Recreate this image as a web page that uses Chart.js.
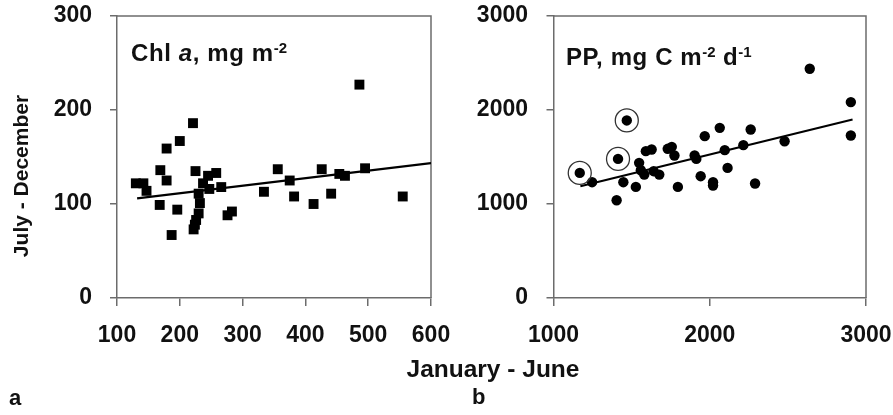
<!DOCTYPE html>
<html>
<head>
<meta charset="utf-8">
<script src="https://cdn.jsdelivr.net/npm/chart.js@4"></script>
<style>
  body { margin: 0; background: #fff; width: 893px; height: 415px; overflow: hidden; position: relative;
         font-family: "Liberation Sans", Arial, sans-serif; font-weight: bold; color: #111; }
  canvas { position: absolute; top: 0; }
  #chlCanvas { left: 0; }
  #ppCanvas { left: 450px; }
  .lbl { position: absolute; white-space: nowrap; font-size: 22px; line-height: 22px; }
  .panel { font-size: 24px; line-height: 24px; letter-spacing: 0.6px; }
  .sup { font-size: 15px; position: relative; top: -8px; letter-spacing: 0; }
  #ytitle { left: 21px; top: 176px; transform: translate(-50%, -50%) rotate(-90deg); font-size: 21px; }
</style>
</head>
<body>
<canvas id="chlCanvas" width="450" height="360"></canvas>
<canvas id="ppCanvas" width="443" height="360"></canvas>

<div class="lbl panel" style="left:131px; top:41px;">Chl <i>a</i>, mg m<span class="sup">-2</span></div>
<div class="lbl panel" style="left:566px; top:45px;">PP, mg C m<span class="sup">-2</span> d<span class="sup">-1</span></div>
<div class="lbl" id="ytitle">July - December</div>
<div class="lbl" style="left:493px; top:357px; transform: translateX(-50%); font-size:24.5px; line-height:24.5px;">January - June</div>
<div class="lbl" style="left:9px; top:387px;">a</div>
<div class="lbl" style="left:472px; top:386px;">b</div>

<script>
// panel a: Chl a, mg m-2 (January-June vs July-December)
const chlJanJun = [130, 142, 147, 169, 179, 168, 196, 179, 200, 221, 187, 225, 222, 224, 226, 230, 232,
                   230, 237, 245, 258, 247, 266, 276, 283, 334, 356, 375, 382, 413, 426, 441, 454, 463, 486, 495, 555];
const chlJulDec = [122, 122, 114, 136, 125, 99, 94, 159, 167, 186, 67, 135, 73, 78, 83, 90, 101,
                   111, 122, 130, 133, 116, 118, 88, 92, 113, 137, 125, 108, 100, 137, 111, 132, 130, 227, 138, 108];
const chlFitX = [132, 600];
const chlFitY = [106, 143.5];
const chlXTicks = [100, 200, 300, 400, 500, 600];
const chlYTicks = [0, 100, 200, 300];

// panel b: PP, mg C m-2 d-1
const ppJanJun = [1168, 1247, 1413, 1469, 1404, 1447, 1527, 1548, 1559, 1581, 1591, 1628, 1641, 1677, 1731, 1757, 1774,
                  1796, 1903, 1914, 1942, 1968, 2021, 2021, 2064, 2096, 2114, 2215, 2262, 2290, 2479, 2640, 2903, 2903];
const ppJulDec = [1331, 1232, 1480, 1889, 1040, 1232, 1182, 1438, 1359, 1313, 1562, 1580, 1349, 1313, 1587, 1608, 1516,
                  1182, 1516, 1480, 1296, 1722, 1232, 1196, 1810, 1573, 1384, 1626, 1793, 1218, 1668, 2439, 2084, 1729];
const ppCircledJanJun = [1168, 1413, 1469];
const ppCircledJulDec = [1331, 1480, 1889];
const ppFitX = [1172, 2914];
const ppFitY = [1189, 1899];
const ppXTicks = [1000, 2000, 3000];
const ppYTicks = [0, 1000, 2000, 3000];

const toPoints = (xs, ys) => xs.map((x, i) => ({ x: x, y: ys[i] }));

Chart.defaults.font.family = '"Liberation Sans", Arial, sans-serif';
Chart.defaults.color = '#111';

const frameColor = '#6c6c6c';
const tickFont = { size: 23, weight: 'bold' };

// draws the top and right edges of the plot box
const framePlugin = {
    id: 'frame',
    beforeDatasetsDraw(chart) {
        const a = chart.chartArea;
        const ctx = chart.ctx;
        ctx.save();
        ctx.strokeStyle = frameColor;
        ctx.lineWidth = 1.5;
        ctx.beginPath();
        ctx.moveTo(a.left, a.top);
        ctx.lineTo(a.right, a.top);
        ctx.lineTo(a.right, a.bottom);
        ctx.stroke();
        ctx.restore();
    }
};

function axisOptions(ticks, yWidth, labelPad) {
    const [xt, yt] = ticks;
    return {
        x: {
            type: 'linear',
            min: xt[0], max: xt[xt.length - 1],
            afterBuildTicks: s => { s.ticks = xt.map(v => ({ value: v })); },
            afterFit: s => { s.height = 62; s.paddingLeft = 0; s.paddingRight = 0; },
            grid: { drawOnChartArea: false, drawTicks: true, tickLength: 8, color: frameColor, lineWidth: 1.5 },
            border: { color: frameColor, width: 1.5 },
            ticks: { font: tickFont, padding: 16, maxRotation: 0, callback: v => String(v) }
        },
        y: {
            type: 'linear',
            min: yt[0], max: yt[yt.length - 1],
            afterBuildTicks: s => { s.ticks = yt.map(v => ({ value: v })); },
            afterFit: s => { s.width = yWidth; s.paddingTop = 0; s.paddingBottom = 0; },
            grid: { drawOnChartArea: false, drawTicks: true, tickLength: 7, color: frameColor, lineWidth: 1.5 },
            border: { color: frameColor, width: 1.5 },
            ticks: { font: tickFont, padding: labelPad, callback: v => String(v) }
        }
    };
}

const baseOptions = {
    responsive: false,
    animation: false,
    events: [],
    plugins: { legend: { display: false }, tooltip: { enabled: false } }
};

new Chart(document.getElementById('chlCanvas').getContext('2d'), {
    type: 'scatter',
    data: {
        datasets: [{
            data: toPoints(chlJanJun, chlJulDec),
            pointStyle: 'rect',
            pointRadius: 7,
            backgroundColor: '#000',
            borderWidth: 0
        }, {
            type: 'line',
            data: toPoints(chlFitX, chlFitY),
            borderColor: '#000',
            borderWidth: 2.2,
            pointRadius: 0,
            fill: false
        }]
    },
    options: Object.assign({}, baseOptions, {
        layout: { autoPadding: false, padding: { top: 16, right: 19, left: 0, bottom: 0 } },
        scales: axisOptions([chlXTicks, chlYTicks], 117, 18)
    }),
    plugins: [framePlugin]
});

new Chart(document.getElementById('ppCanvas').getContext('2d'), {
    type: 'scatter',
    data: {
        datasets: [{
            data: toPoints(ppCircledJanJun, ppCircledJulDec),
            pointStyle: 'circle',
            pointRadius: 11.5,
            backgroundColor: 'rgba(0,0,0,0)',
            borderColor: '#333',
            borderWidth: 1.3
        }, {
            data: toPoints(ppJanJun, ppJulDec),
            pointStyle: 'circle',
            pointRadius: 5.2,
            backgroundColor: '#000',
            borderWidth: 0
        }, {
            type: 'line',
            data: toPoints(ppFitX, ppFitY),
            borderColor: '#000',
            borderWidth: 2.2,
            pointRadius: 0,
            fill: false
        }]
    },
    options: Object.assign({}, baseOptions, {
        layout: { autoPadding: false, padding: { top: 16, right: 27, left: 0, bottom: 0 } },
        scales: axisOptions([ppXTicks, ppYTicks], 103.5, 18.5)
    }),
    plugins: [framePlugin]
});
</script>
</body>
</html>
